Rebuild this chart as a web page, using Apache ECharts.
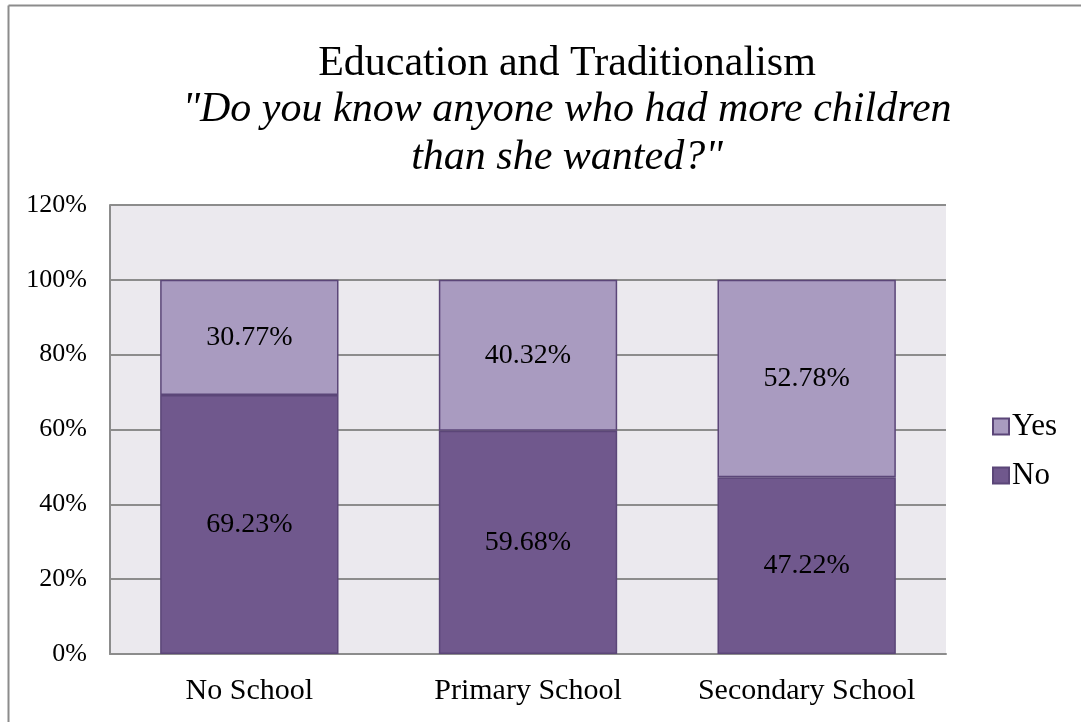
<!DOCTYPE html>
<html>
<head>
<meta charset="utf-8">
<script src="https://cdn.jsdelivr.net/npm/echarts@6/dist/echarts.min.js"></script>
<style>
html,body{margin:0;padding:0;background:#fff;}
#chart{width:1081px;height:722px;}
</style>
</head>
<body>
<div id="chart"></div>
<script>
const categories = ["No School", "Primary School", "Secondary School"];
const noValues = [69.23, 59.68, 47.22];
const yesValues = [30.77, 40.32, 52.78];
const yTicks = { min: 0, max: 120, interval: 20 };

const chart = echarts.init(document.getElementById('chart'));
const serif = '"Liberation Serif", "Times New Roman", serif';
const option = {
  animation: false,
  backgroundColor: '#ffffff',
  title: {
    text: 'Education and Traditionalism',
    subtext: '"Do you know anyone who had more children\nthan she wanted?"',
    left: 562, textAlign: 'center', top: 35,
    itemGap: -2,
    textStyle: { fontFamily: serif, fontSize: 42, fontWeight: 'normal', color: '#000', lineHeight: 48 },
    subtextStyle: { fontFamily: serif, fontSize: 42, fontStyle: 'italic', color: '#000', lineHeight: 48 }
  },
  legend: {
    orient: 'vertical', left: 987, top: 406,
    itemWidth: 16, itemHeight: 16, itemGap: 18,
    data: ['Yes', 'No'],
    textStyle: { fontFamily: serif, fontSize: 31, color: '#000', padding: [0,0,0,-2] },
    icon: 'rect'
  },
  grid: { left: 110, right: 135, top: 205, bottom: 68, show: true, backgroundColor: '#EBE9EE', borderColor: 'transparent' },
  xAxis: {
    type: 'category', data: categories,
    axisLine: { lineStyle: { color: '#8C8C8C', width: 2 } },
    axisTick: { show: false },
    axisLabel: { interval: 0, hideOverlap: false, fontFamily: serif, fontSize: 30, color: '#000', margin: 22 }
  },
  yAxis: {
    type: 'value', min: yTicks.min, max: yTicks.max, interval: yTicks.interval,
    axisLine: { show: true, lineStyle: { color: '#8C8C8C', width: 2 } },
    axisTick: { show: false },
    splitLine: { lineStyle: { color: '#8C8C8C', width: 2 } },
    axisLabel: { fontFamily: serif, fontSize: 26, color: '#000', formatter: '{value}%', margin: 23 }
  },
  series: [
    {
      name: 'No', type: 'bar', stack: 'a', data: noValues, barWidth: '64%',
      itemStyle: { color: '#70588D', borderColor: '#5B4678', borderWidth: 1.5 },
      label: { show: true, position: 'inside', formatter: p => p.value.toFixed(2) + '%', fontFamily: serif, fontSize: 28, color: '#000' }
    },
    {
      name: 'Yes', type: 'bar', stack: 'a', data: yesValues, barWidth: '64%',
      itemStyle: { color: '#A99BC0', borderColor: '#5B4678', borderWidth: 1.5 },
      label: { show: true, position: 'inside', formatter: p => p.value.toFixed(2) + '%', fontFamily: serif, fontSize: 28, color: '#000' }
    }
  ],
  graphic: [
    { type: 'line', shape: { x1: 8.5, y1: 5.5, x2: 1081, y2: 5.5 }, style: { stroke: '#8C8C8C', lineWidth: 2 } },
    { type: 'line', shape: { x1: 8.5, y1: 5.5, x2: 8.5, y2: 722 }, style: { stroke: '#8C8C8C', lineWidth: 2 } }
  ]
};
chart.setOption(option);
</script>
</body>
</html>
